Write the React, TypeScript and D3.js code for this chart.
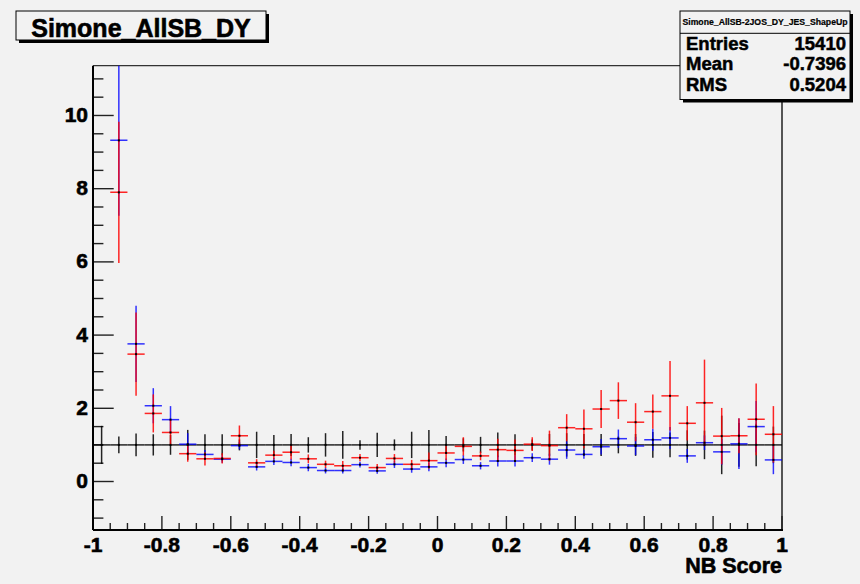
import React from 'react';
import * as d3 from 'd3';

// histogram binning: 40 bins on [-1, 1]
const nBins = 40;
const binWidth = 0.05;
const binCenters = d3.range(nBins).map((i) => -1 + (i + 0.5) * binWidth);

// reference (ratio = 1) errors
const refErr = [
  0.52, 0.23, 0.31, 0.29, 0.27, 0.41, 0.29, 0.29, 0.15, 0.36,
  0.27, 0.30, 0.21, 0.32, 0.38, 0.13, 0.33, 0.15, 0.36, 0.41,
  0.24, 0.18, 0.22, 0.34, 0.29, 0.15, 0.30, 0.32, 0.30, 0.30,
  0.23, 0.30, 0.35, 0.34, 0.40, 0.39, 0.80, 0.60, 0.58, 0.50,
];

const blueVal: (number | null)[] = [
  null, 9.32, 3.76, 2.07, 1.69, 1.02, 0.74, 0.61, 0.98, 0.40,
  0.55, 0.52, 0.38, 0.30, 0.30, 0.46, 0.29, 0.47, 0.34, 0.40,
  0.51, 0.60, 0.43, 0.56, 0.56, 0.65, 0.61, 0.86, 0.74, 0.95,
  1.17, 0.97, 1.14, 1.19, 0.70, 1.06, 0.81, 1.03, 1.50, 0.59,
];
const blueErr = [
  0, 2.06, 1.04, 0.48, 0.37, 0.30, 0.12, 0.10, 0.10, 0.10,
  0.10, 0.10, 0.10, 0.08, 0.08, 0.08, 0.08, 0.10, 0.10, 0.12,
  0.12, 0.12, 0.10, 0.15, 0.15, 0.12, 0.15, 0.24, 0.12, 0.21,
  0.25, 0.25, 0.30, 0.30, 0.19, 0.20, 0.35, 0.69, 0.70, 0.39,
];

const redVal: (number | null)[] = [
  null, 7.90, 3.48, 1.86, 1.34, 0.76, 0.62, 0.63, 1.25, 0.51,
  0.72, 0.80, 0.62, 0.47, 0.43, 0.65, 0.38, 0.63, 0.47, 0.57,
  0.78, 0.96, 0.70, 0.87, 0.85, 1.02, 0.98, 1.47, 1.44, 1.98,
  2.21, 1.62, 1.91, 2.34, 1.59, 2.15, 1.24, 1.25, 1.70, 1.29,
];
const redErr = [
  0, 1.93, 1.14, 0.52, 0.34, 0.22, 0.18, 0.14, 0.28, 0.10,
  0.12, 0.20, 0.12, 0.10, 0.13, 0.10, 0.10, 0.12, 0.12, 0.22,
  0.20, 0.25, 0.12, 0.30, 0.30, 0.19, 0.41, 0.37, 0.53, 0.52,
  0.50, 0.52, 0.47, 0.95, 0.47, 1.18, 0.77, 0.48, 0.98, 0.77,
];

const xMajor = [-1, -0.8, -0.6, -0.4, -0.2, 0, 0.2, 0.4, 0.6, 0.8, 1];
const xLabels = ['-1', '-0.8', '-0.6', '-0.4', '-0.2', '0', '0.2', '0.4', '0.6', '0.8', '1'];
const yMajor = [0, 2, 4, 6, 8, 10];

const statsNames = ['Entries', 'Mean', 'RMS'];
const statsValues = ['15410', '-0.7396', '0.5204'];

const W = 860;
const H = 584;
const bg = '#f2f2f2';
const font = '"Liberation Sans", Arial, Helvetica, sans-serif';

const frame = { left: 93, right: 782, top: 65.7, bottom: 530 };

const x = d3.scaleLinear().domain([-1, 1]).range([frame.left, frame.right]);
const y = d3.scaleLinear().domain([-1.325, 11.36]).range([frame.bottom, frame.top]);

const Series = ({ vals, errs, color, opacity }: { vals: (number | null)[]; errs: number[]; color: string; opacity: number }) => (
  <g stroke={color} strokeWidth={1.5} strokeOpacity={opacity} clipPath="url(#frameClip)">
    {binCenters.map((c, i) => {
      const v = vals[i];
      if (v == null) return null;
      const e = errs[i];
      return (
        <g key={i}>
          <line x1={x(c - binWidth / 2)} x2={x(c + binWidth / 2)} y1={y(v)} y2={y(v)} />
          <line x1={x(c)} x2={x(c)} y1={y(v - e)} y2={y(v + e)} />
        </g>
      );
    })}
  </g>
);

const Markers = ({ vals }: { vals: (number | null)[] }) => (
  <g fill="#000">
    {binCenters.map((c, i) =>
      vals[i] == null ? null : <rect key={i} x={x(c) - 1} y={y(vals[i] as number) - 1} width={2} height={2} />
    )}
  </g>
);

export default function App() {
  const refVal = refErr.map(() => 1);
  const yMinor = d3.range(-1, 11.01, 0.5);
  const xMinor = d3.range(-1, 1.001, 0.05);

  return (
    <svg width={W} height={H} style={{ position: 'absolute', left: 0, top: 0, background: bg }}>
      <defs>
        <clipPath id="frameClip">
          <rect x={frame.left} y={frame.top} width={frame.right - frame.left} height={frame.bottom - frame.top} />
        </clipPath>
      </defs>
      <rect width={W} height={H} fill={bg} />

      {/* frame */}
      <line x1={frame.left} x2={frame.right} y1={frame.top} y2={frame.top} stroke="#333" strokeWidth={1.2} />
      <line x1={frame.right} x2={frame.right} y1={frame.top} y2={frame.bottom} stroke="#555" strokeWidth={2} />

      {/* y axis ticks */}
      <g stroke="#222" strokeWidth={1.4}>
        {yMinor.map((t) => (
          <line key={t} x1={frame.left} x2={frame.left + (t % 2 === 0 ? 20.7 : 10.4)} y1={y(t)} y2={y(t)} />
        ))}
      </g>
      {/* x axis ticks */}
      <g stroke="#222" strokeWidth={1.4}>
        {xMinor.map((t, i) => (
          <line key={i} x1={x(t)} x2={x(t)} y1={frame.bottom} y2={frame.bottom - (i % 4 === 0 ? 14 : 7)} />
        ))}
      </g>

      <Series vals={refVal} errs={refErr} color="#000" opacity={0.85} />
      <Series vals={blueVal} errs={blueErr} color="#0000ff" opacity={0.8} />
      <Series vals={redVal} errs={redErr} color="#ff0000" opacity={0.85} />
      <Markers vals={refVal} />
      <Markers vals={blueVal} />
      <Markers vals={redVal} />

      {/* axis lines */}
      <line x1={frame.left} x2={frame.left} y1={frame.top} y2={frame.bottom} stroke="#000" strokeWidth={2} />
      <line x1={frame.left} x2={frame.right + 1} y1={frame.bottom} y2={frame.bottom} stroke="#000" strokeWidth={2} />

      {/* tick labels */}
      <g fontFamily={font} fontWeight="bold" fontSize={21} fill="#000" stroke="#000" strokeWidth={0.6}>
        {yMajor.map((t) => (
          <text key={t} x={88} y={y(t) + 6.5} textAnchor="end">{t}</text>
        ))}
        {xMajor.map((t, i) => (
          <text key={t} x={x(t)} y={552} textAnchor="middle">{xLabels[i]}</text>
        ))}
        <text x={782} y={572.5} textAnchor="end" fontSize={21.5}>NB Score</text>
      </g>

      {/* title box */}
      <rect x={19} y={14} width={250} height={29} fill="#000" />
      <rect x={16} y={11} width={250} height={29} fill={bg} stroke="#000" strokeWidth={1} />
      <text x={141} y={36.5} textAnchor="middle" fontFamily={font} fontWeight="bold" fontSize={25} stroke="#000" strokeWidth={0.6}>Simone_AllSB_DY</text>

      {/* stats box */}
      <rect x={683} y={14} width={170} height={88.5} fill="#000" />
      <rect x={680} y={11} width={170} height={88.5} fill={bg} stroke="#000" strokeWidth={1} />
      <line x1={680} x2={850} y1={33.3} y2={33.3} stroke="#000" strokeWidth={1} />
      <text x={765} y={25} textAnchor="middle" fontFamily={font} fontWeight="bold" fontSize={8.7} stroke="#000" strokeWidth={0.2}>Simone_AllSB-2JOS_DY_JES_ShapeUp</text>
      <g fontFamily={font} fontWeight="bold" fontSize={18.5} stroke="#000" strokeWidth={0.5}>
        {statsNames.map((n, i) => (
          <g key={n}>
            <text x={686} y={50 + i * 20.4}>{n}</text>
            <text x={846} y={50 + i * 20.4} textAnchor="end">{statsValues[i]}</text>
          </g>
        ))}
      </g>
    </svg>
  );
}
